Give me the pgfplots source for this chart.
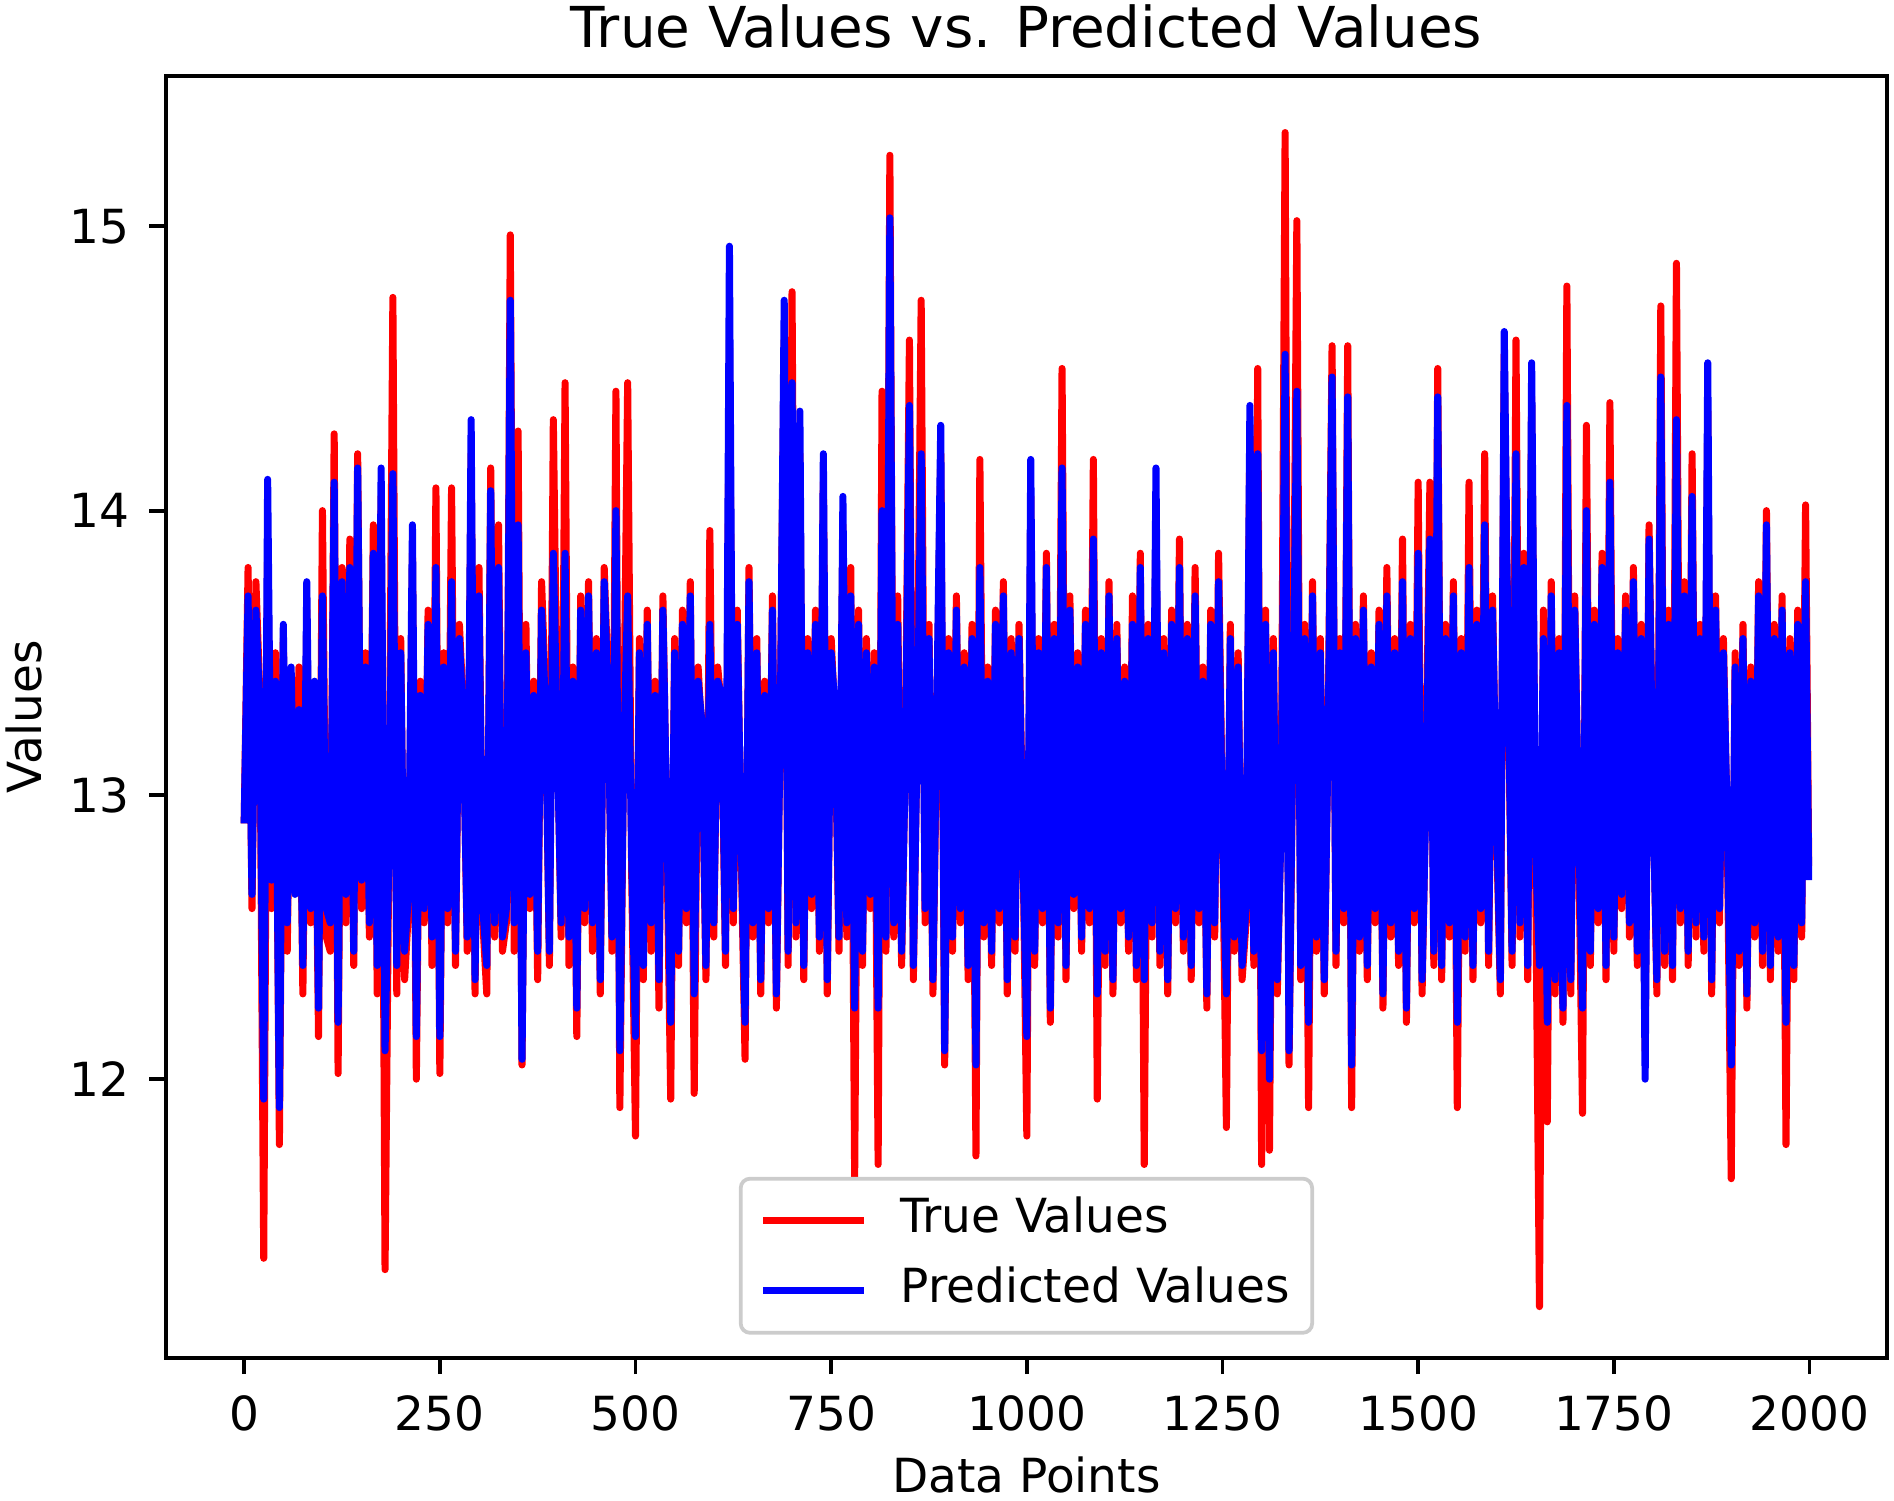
\documentclass[border=0pt]{standalone}
\usepackage{fontspec}
\setmainfont{DejaVu Sans}
\usepackage{pgfplots}
\usepackage{pgfplotstable}
\pgfplotsset{compat=1.18}

\pgfplotstableread{
x t p
0 12.90 12.90
5 13.80 13.70
10 12.60 12.65
15 13.75 13.65
20 13.35 13.30
25 11.37 11.93
30 13.90 14.11
35 12.60 12.70
40 13.50 13.40
45 11.77 11.90
50 13.55 13.60
55 12.45 12.55
60 13.40 13.45
65 12.70 12.65
70 13.45 13.30
75 12.30 12.40
80 13.65 13.75
85 12.55 12.60
90 13.35 13.40
95 12.15 12.25
100 14.00 13.70
105 12.50 12.60
110 12.45 12.55
115 14.27 14.10
120 12.02 12.20
125 13.80 13.75
130 12.55 12.65
135 13.90 13.80
140 12.40 12.45
145 14.20 14.15
150 12.60 12.70
155 13.50 13.45
160 12.50 12.55
165 13.95 13.85
170 12.30 12.40
175 14.05 14.15
180 11.33 12.10
185 12.85 12.80
190 14.75 14.13
195 12.30 12.40
200 13.55 13.50
205 12.35 12.45
210 12.60 12.65
215 13.85 13.95
220 12.00 12.15
225 13.40 13.35
230 12.55 12.60
235 13.65 13.60
240 12.40 12.50
245 14.08 13.80
250 12.02 12.15
255 13.50 13.45
260 12.55 12.60
265 14.08 13.75
270 12.40 12.45
275 13.60 13.55
280 13.30 13.25
285 12.45 12.50
290 14.20 14.32
295 12.30 12.35
300 13.80 13.70
305 12.55 12.60
310 12.30 12.40
315 14.15 14.07
320 12.50 12.55
325 13.95 13.80
330 12.45 12.50
335 12.55 12.60
340 14.97 14.74
345 12.45 12.55
350 14.28 13.95
355 12.05 12.07
360 13.60 13.50
365 12.60 12.65
370 13.40 13.35
375 12.35 12.45
380 13.75 13.65
385 13.35 13.30
390 12.40 12.45
395 14.32 13.85
400 13.25 13.20
405 12.50 12.55
410 14.45 13.85
415 12.40 12.50
420 13.45 13.40
425 12.15 12.25
430 13.70 13.65
435 12.55 12.60
440 13.75 13.70
445 12.45 12.55
450 13.55 13.50
455 12.30 12.35
460 13.80 13.75
465 13.40 13.35
470 12.45 12.50
475 14.42 14.00
480 11.90 12.10
485 13.20 13.15
490 14.45 13.70
495 12.75 12.80
500 11.80 12.15
505 13.55 13.50
510 12.35 12.40
515 13.65 13.60
520 12.45 12.55
525 13.40 13.35
530 12.25 12.35
535 13.70 13.65
540 12.85 12.90
545 11.93 12.20
550 13.55 13.50
555 12.40 12.45
560 13.65 13.60
565 12.55 12.60
570 13.75 13.70
575 11.95 12.30
580 13.45 13.40
585 13.20 13.25
590 12.35 12.40
595 13.93 13.60
600 12.50 12.55
605 13.45 13.40
610 13.30 13.35
615 12.40 12.45
620 14.60 14.93
625 12.55 12.60
630 13.65 13.60
635 12.80 12.85
640 12.07 12.20
645 13.80 13.75
650 12.50 12.55
655 13.55 13.50
660 12.30 12.35
665 13.40 13.35
670 12.55 12.60
675 13.70 13.65
680 12.25 12.30
685 13.30 13.25
690 14.60 14.74
695 12.40 12.45
700 14.77 14.45
705 12.50 12.55
710 14.20 14.35
715 12.35 12.40
720 13.55 13.50
725 12.60 12.65
730 13.65 13.60
735 12.45 12.50
740 14.10 14.20
745 12.30 12.35
750 13.55 13.50
755 13.25 13.30
760 12.45 12.50
765 13.95 14.05
770 12.50 12.55
775 13.80 13.70
780 11.65 12.25
785 13.65 13.60
790 12.40 12.45
795 13.55 13.50
800 12.60 12.65
805 13.50 13.45
810 11.70 12.25
815 14.42 14.00
820 12.45 12.50
825 15.25 15.03
830 12.50 12.55
835 13.70 13.60
840 12.40 12.45
845 13.20 13.15
850 14.60 14.37
855 12.35 12.40
860 13.25 13.20
865 14.74 14.20
870 12.55 12.60
875 13.60 13.55
880 12.30 12.35
885 13.25 13.30
890 14.20 14.30
895 12.05 12.10
900 13.55 13.50
905 12.45 12.50
910 13.70 13.65
915 12.55 12.60
920 13.50 13.45
925 12.35 12.40
930 13.60 13.55
935 11.73 12.05
940 14.18 13.80
945 12.50 12.55
950 13.45 13.40
955 12.40 12.45
960 13.65 13.60
965 12.55 12.60
970 13.75 13.70
975 12.30 12.35
980 13.55 13.50
985 12.45 12.50
990 13.60 13.55
995 12.85 12.80
1000 11.80 12.15
1005 14.05 14.18
1010 12.40 12.45
1015 13.55 13.50
1020 12.55 12.60
1025 13.85 13.80
1030 12.20 12.25
1035 13.60 13.55
1040 12.50 12.55
1045 14.50 14.15
1050 12.35 12.40
1055 13.70 13.65
1060 12.60 12.65
1065 13.50 13.45
1070 12.45 12.50
1075 13.65 13.60
1080 12.55 12.60
1085 14.18 13.90
1090 11.93 12.30
1095 13.55 13.50
1100 12.40 12.45
1105 13.75 13.70
1110 12.30 12.35
1115 13.60 13.55
1120 12.55 12.60
1125 13.45 13.40
1130 12.45 12.50
1135 13.70 13.60
1140 12.35 12.40
1145 13.85 13.80
1150 11.70 12.35
1155 13.60 13.55
1160 12.50 12.55
1165 14.00 14.15
1170 12.40 12.45
1175 13.55 13.50
1180 12.30 12.35
1185 13.65 13.60
1190 12.55 12.60
1195 13.90 13.80
1200 12.45 12.50
1205 13.60 13.55
1210 12.35 12.40
1215 13.80 13.70
1220 12.55 12.60
1225 13.45 13.40
1230 12.25 12.30
1235 13.65 13.60
1240 12.50 12.55
1245 13.85 13.75
1250 12.90 12.85
1255 11.83 12.30
1260 13.60 13.55
1265 12.45 12.50
1270 13.50 13.45
1275 12.35 12.40
1280 12.55 12.60
1285 14.30 14.37
1290 12.40 12.45
1295 14.50 14.20
1300 11.70 12.10
1305 13.65 13.60
1310 11.75 12.00
1315 13.55 13.50
1320 12.30 12.35
1325 12.95 12.90
1330 15.33 14.55
1335 12.05 12.10
1340 13.20 13.25
1345 15.02 14.42
1350 12.35 12.40
1355 13.60 13.55
1360 11.90 12.20
1365 13.75 13.70
1370 12.45 12.50
1375 13.55 13.50
1380 12.30 12.35
1385 13.25 13.20
1390 14.58 14.47
1395 12.40 12.45
1400 13.55 13.50
1405 12.55 12.60
1410 14.58 14.40
1415 11.90 12.05
1420 13.60 13.55
1425 12.45 12.50
1430 13.70 13.65
1435 12.35 12.40
1440 13.50 13.45
1445 12.55 12.60
1450 13.65 13.60
1455 12.25 12.30
1460 13.80 13.70
1465 12.50 12.55
1470 13.55 13.50
1475 12.40 12.45
1480 13.90 13.75
1485 12.20 12.25
1490 13.60 13.55
1495 12.55 12.60
1500 14.10 13.85
1505 12.30 12.35
1510 13.05 13.00
1515 14.10 13.90
1520 12.40 12.45
1525 14.50 14.40
1530 12.35 12.40
1535 13.60 13.55
1540 12.50 12.55
1545 13.75 13.70
1550 11.90 12.20
1555 13.55 13.50
1560 12.45 12.50
1565 14.10 13.80
1570 12.35 12.40
1575 13.65 13.60
1580 12.55 12.60
1585 14.20 13.95
1590 12.40 12.45
1595 13.70 13.65
1600 12.90 12.95
1605 12.30 12.35
1610 14.55 14.63
1615 13.40 13.45
1620 12.40 12.45
1625 14.60 14.20
1630 12.50 12.55
1635 13.85 13.80
1640 12.35 12.40
1645 14.40 14.52
1650 12.75 12.80
1655 11.20 12.40
1660 13.65 13.55
1665 11.85 12.20
1670 13.75 13.70
1675 12.30 12.35
1680 13.55 13.50
1685 12.20 12.25
1690 14.79 14.37
1695 12.30 12.35
1700 13.70 13.65
1705 12.85 12.90
1710 11.88 12.25
1715 14.30 14.00
1720 12.40 12.45
1725 13.65 13.60
1730 12.55 12.60
1735 13.85 13.80
1740 12.35 12.40
1745 14.38 14.10
1750 12.45 12.50
1755 13.55 13.50
1760 12.60 12.65
1765 13.70 13.65
1770 12.50 12.55
1775 13.80 13.75
1780 12.40 12.45
1785 13.60 13.55
1790 12.10 12.00
1795 13.95 13.90
1800 13.05 13.00
1805 12.30 12.35
1810 14.72 14.47
1815 12.40 12.45
1820 13.65 13.60
1825 12.35 12.40
1830 14.87 14.32
1835 12.55 12.60
1840 13.75 13.70
1845 12.40 12.45
1850 14.20 14.05
1855 12.50 12.55
1860 13.60 13.55
1865 12.45 12.50
1870 14.35 14.52
1875 12.30 12.35
1880 13.70 13.65
1885 12.55 12.60
1890 13.55 13.50
1895 12.85 12.90
1900 11.65 12.05
1905 13.50 13.45
1910 12.40 12.45
1915 13.60 13.55
1920 12.25 12.30
1925 13.45 13.40
1930 12.50 12.55
1935 13.75 13.70
1940 12.40 12.45
1945 14.00 13.95
1950 12.35 12.40
1955 13.60 13.55
1960 12.45 12.50
1965 13.70 13.65
1970 11.77 12.20
1975 13.55 13.50
1980 12.35 12.40
1985 13.65 13.60
1990 12.50 12.55
1995 14.02 13.75
1999 12.75 12.70
}\data

\begin{document}
\begin{tikzpicture}
\begin{axis}[
  scale only axis, width=366.2pt, height=272.8pt,
  xmin=-100, xmax=2099, ymin=11.02, ymax=15.53,
  xtick={0,250,500,750,1000,1250,1500,1750,2000},
  ytick={12,13,14,15},
  tick pos=left, tick align=outside,
  major tick length=3.5pt,
  every tick/.style={black, line width=0.8pt},
  axis line style={line width=0.8pt},
  /pgf/number format/assume math mode=true,
  /pgf/number format/1000 sep={},
  every tick label/.append style={font=\fontsize{10}{12}\selectfont, inner sep=0pt},
  xticklabel style={yshift=-4.4pt},
  yticklabel style={xshift=-4.1pt},
  xlabel={Data Points}, ylabel={Values},
  every axis x label/.style={at={(axis description cs:0.5,-0.1052)}, anchor=base, font=\fontsize{10}{12}\selectfont},
  every axis y label/.style={at={(axis description cs:-0.0825,0.5)}, anchor=center, rotate=90, font=\fontsize{10}{12}\selectfont},
  title={True Values vs. Predicted Values},
  every axis title/.style={at={(axis description cs:0.5,1)}, anchor=base, yshift=6pt, font=\fontsize{12}{14}\selectfont},
  legend style={at={(axis description cs:0.5,0.018)}, anchor=south, draw=black!20, line width=0.8pt, rounded corners=2pt, fill=white, inner xsep=4.8pt, inner ysep=4pt, row sep=5pt, column sep=7.7pt, font=\fontsize{10}{12}\selectfont, nodes={inner sep=0pt, text height=7.5pt, text depth=2.4pt}},
  legend cell align=left,
  legend image code/.code={\draw[#1, line cap=rect] (0.75pt,0pt) -- (20.75pt,0pt);},
]
\addplot[color={rgb,1:red,1;green,0;blue,0}, line width=1.5pt, line join=round] table[x=x,y=t]{\data};
\addlegendentry{True Values}
\addplot[color={rgb,1:red,0;green,0;blue,1}, line width=1.5pt, line join=round] table[x=x,y=p]{\data};
\addlegendentry{Predicted Values}
\coordinate (sw) at (rel axis cs:0,0);
\coordinate (ne) at (rel axis cs:1,1);
\end{axis}
\pgfresetboundingbox
\path ([xshift=-35.3pt,yshift=-30.3pt]sw) rectangle ([xshift=1.5pt,yshift=16.1pt]ne);
\end{tikzpicture}
\end{document}
